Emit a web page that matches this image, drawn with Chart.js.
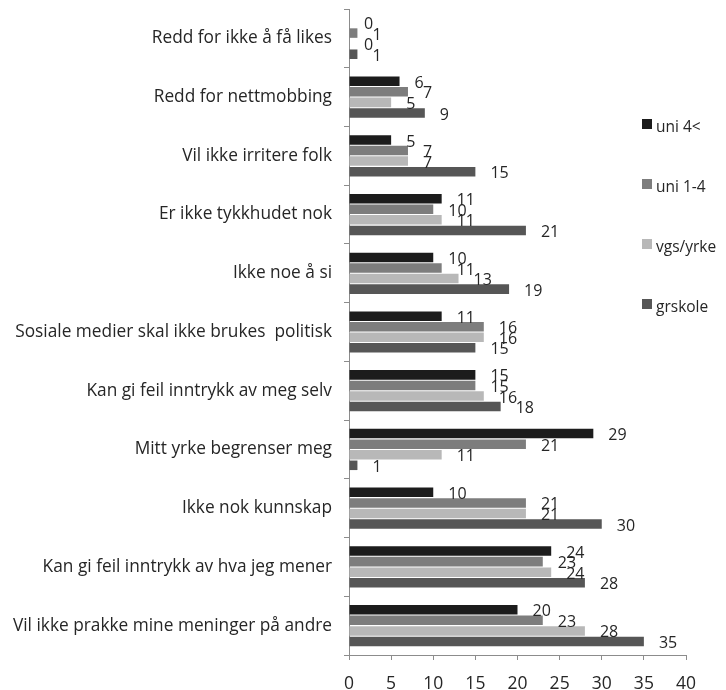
<!DOCTYPE html>
<html>
<head>
<meta charset="utf-8">
<script src="https://cdn.jsdelivr.net/npm/chart.js@4/dist/chart.umd.min.js"></script>
<style>
  html, body { margin: 0; padding: 0; background: #ffffff; }
  #c { display: block; }
</style>
</head>
<body>
<canvas id="c" width="726" height="690"></canvas>
<script>
const categories = [
  "Redd for ikke å få likes",
  "Redd for nettmobbing",
  "Vil ikke irritere folk",
  "Er ikke tykkhudet nok",
  "Ikke noe å si",
  "Sosiale medier skal ikke brukes  politisk",
  "Kan gi feil inntrykk av meg selv",
  "Mitt yrke begrenser meg",
  "Ikke nok kunnskap",
  "Kan gi feil inntrykk av hva jeg mener",
  "Vil ikke prakke mine meninger på andre"
];
const seriesNames = ["uni 4<", "uni 1-4", "vgs/yrke", "grskole"];
const uni4plus  = [0, 6, 5, 11, 10, 11, 15, 29, 10, 24, 20];
const uni1to4   = [1, 7, 7, 10, 11, 16, 15, 21, 21, 23, 23];
const vgsYrke   = [0, 5, 7, 11, 13, 16, 16, 11, 21, 24, 28];
const grskole   = [1, 9, 15, 21, 19, 15, 18, 1, 30, 28, 35];
const xTicks = [0, 5, 10, 15, 20, 25, 30, 35, 40];

const colors = ["#1c1c1c", "#7d7d7d", "#b8b8b8", "#565656"];
const seriesValues = [uni4plus, uni1to4, vgsYrke, grskole];
const textColor = "#262626";
const fontFamily = "'Open Sans', Lato, sans-serif";

const valueLabels = {
  id: "valueLabels",
  afterDatasetsDraw(chart) {
    const ctx = chart.ctx;
    ctx.save();
    ctx.font = "16px " + fontFamily;
    ctx.fillStyle = textColor;
    ctx.textAlign = "left";
    ctx.textBaseline = "middle";
    chart.data.datasets.forEach((ds, di) => {
      const meta = chart.getDatasetMeta(di);
      meta.data.forEach((el, i) => {
        ctx.fillText(String(ds.data[i]), el.x + 15, el.y + 2);
      });
    });
    ctx.restore();
  }
};

const sideLegend = {
  id: "sideLegend",
  afterDraw(chart) {
    const ctx = chart.ctx;
    const ys = [128, 188, 248, 308];
    ctx.save();
    ctx.font = "15.5px " + fontFamily;
    ctx.textAlign = "left";
    ctx.textBaseline = "middle";
    chart.data.datasets.forEach((ds, i) => {
      const y = ys[i];
      ctx.fillStyle = ds.backgroundColor;
      ctx.fillRect(642, y - 9, 10, 10);
      ctx.fillStyle = textColor;
      ctx.fillText(ds.label, 656, y);
    });
    ctx.restore();
  }
};

new Chart(document.getElementById("c"), {
  type: "bar",
  data: {
    labels: categories,
    datasets: seriesNames.map((name, i) => ({
      label: name,
      data: seriesValues[i],
      backgroundColor: colors[i],
      borderWidth: 0,
      categoryPercentage: 0.72,
      barPercentage: 0.9
    }))
  },
  options: {
    indexAxis: "y",
    responsive: false,
    animation: false,
    layout: { padding: { top: 9, right: 40, bottom: 0, left: 0 } },
    plugins: {
      legend: { display: false },
      tooltip: { enabled: false }
    },
    scales: {
      x: {
        type: "linear",
        min: xTicks[0],
        max: xTicks[xTicks.length - 1],
        afterBuildTicks(s) { s.ticks = xTicks.map(v => ({ value: v })); },
        afterFit(s) { s.height = 35; s.paddingLeft = 0; s.paddingRight = 0; },
        ticks: {
          color: textColor,
          font: { size: 17.5, family: fontFamily },
          padding: 14
        },
        grid: {
          drawOnChartArea: false,
          drawTicks: true,
          tickLength: 5,
          color: "#8c8c8c"
        },
        border: { display: true, color: "#8c8c8c", width: 1 }
      },
      y: {
        afterFit(s) { s.width = 349; s.paddingTop = 0; s.paddingBottom = 0; },
        ticks: {
          color: textColor,
          font: { size: 17.3, family: fontFamily },
          padding: 12,
          autoSkip: false
        },
        grid: {
          offset: true,
          drawOnChartArea: false,
          drawTicks: true,
          tickLength: 5,
          color: "#8c8c8c"
        },
        border: { display: true, color: "#8c8c8c", width: 1 }
      }
    }
  },
  plugins: [valueLabels, sideLegend]
});
</script>
</body>
</html>
